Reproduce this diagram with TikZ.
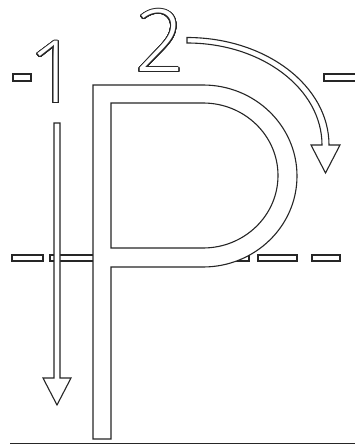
\documentclass[tikz,border=0pt]{standalone}
\usepackage{fontspec}
\usepackage{contour}
\IfFontExistsTF{Open Sans Light}{\newfontfamily\digitfont{Open Sans Light}}{\newfontfamily\digitfont{Open Sans}}
\contourlength{1pt}
\contournumber{32}
\tikzset{
  outl/.style={draw=black!85, line width=1.1pt, fill=white, line join=miter},
  digit/.style={inner sep=0pt, anchor=base, font=\digitfont\fontsize{86}{86}\selectfont},
}
\newcommand{\odigit}[1]{{\color{white}\contour{black!85}{#1}}}
\begin{document}
\begin{tikzpicture}[x=1pt,y=-1pt]
\useasboundingbox (0,0) rectangle (355,446);
% guide dashes (outlined)
\draw[outl] (13,74) rectangle (31,81);
\draw[outl] (324,74) rectangle (362,81);
\draw[outl] (12,255) rectangle (43,261);
\draw[outl] (50,255) rectangle (100,261);
\draw[outl] (236,255) rectangle (249,261);
\draw[outl] (258,255) rectangle (297,261);
\draw[outl] (312,255) rectangle (340,261);
% numbers
\node[digit] (one) at (54,103) {\odigit{1}};
\node[digit] (two) at (160,72) {\odigit{2}};
% letter P
\path[outl, even odd rule] (93,439) -- (93,85) -- (203,85)
  arc[start angle=270, end angle=450, x radius=94, y radius=91]
  -- (111,267) -- (111,439) -- cycle
  (111,103) -- (203,103)
  arc[start angle=270, end angle=450, x radius=75, y radius=72.5]
  -- (111,248) -- cycle;
% arrow 1
\path[outl] (54,123) -- (54,378) -- (43,378) -- (57,405) -- (71,378)
  -- (60,378) -- (60,123) -- cycle;
% arrow 2
\path[outl] (187,37.5)
  arc[start angle=270, end angle=360, x radius=142, y radius=107.5]
  -- (340,145) -- (325.5,173) -- (311,145) -- (322,145)
  arc[start angle=0, end angle=-90, x radius=135, y radius=102]
  -- cycle;
% base line
\coordinate (bl) at (10,443.5);
\coordinate (br) at (355,443.5);
\draw[black!85, line width=1.6pt] (bl) -- (br);
\end{tikzpicture}
\end{document}
